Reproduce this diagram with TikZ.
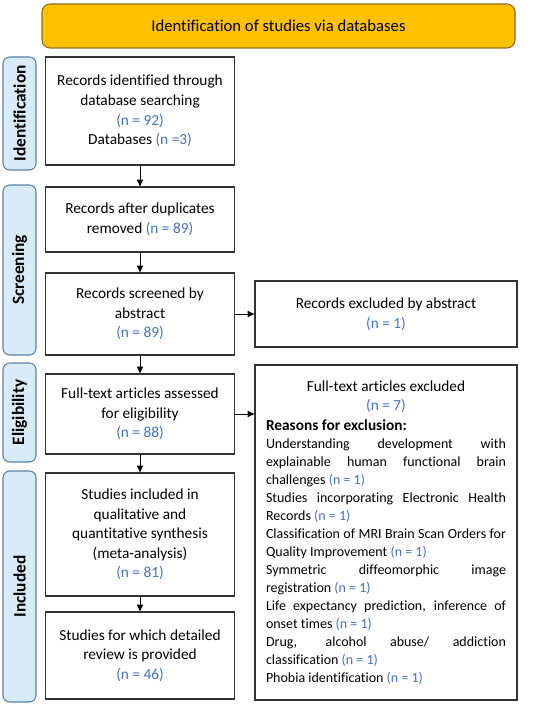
\documentclass[tikz,border=0pt]{standalone}
\usepackage{fontspec}
\setmainfont[Ligatures=NoCommon]{Carlito}
\usetikzlibrary{arrows.meta}
\definecolor{bannerfill}{HTML}{FFC000}
\definecolor{bannerline}{HTML}{8C6D1F}
\definecolor{phasefill}{HTML}{DAEBF8}
\definecolor{phaseline}{HTML}{5A7FA8}
\definecolor{nblue}{HTML}{4472C4}
\definecolor{boxline}{HTML}{333333}
\newcommand{\nval}[1]{\textcolor{nblue}{#1}}
\begin{document}
\begin{tikzpicture}[x=0.75pt, y=-0.75pt,
    banner/.style={draw=bannerline, fill=bannerfill, line width=0.8pt, rounded corners=6pt, font=\fontsize{12.5}{15}\selectfont},
    phase/.style={draw=phaseline, fill=phasefill, line width=0.8pt, rounded corners=5pt, minimum height=24.75pt, font=\bfseries\fontsize{13}{15}\selectfont, rotate=90},
    box/.style={draw=boxline, line width=0.9pt, fill=white, align=center, inner sep=2pt, minimum width=141.75pt, font=\fontsize{11.5}{14.7}\selectfont},
    arr/.style={-{Triangle[length=5pt,width=4.5pt]}, line width=0.75pt}]
    \useasboundingbox (0,0) rectangle (550,706);

    % header
    \node[banner, minimum width=354.75pt, minimum height=33pt] (head) at (278.5,26) {Identification of studies via databases};

    % phases on the left
    \node[phase, minimum width=84.75pt] (pid) at (19.5,113.5) {Identification};
    \node[phase, minimum width=127.5pt] (psc) at (19.5,270) {Screening};
    \node[phase, minimum width=74.25pt] (pel) at (19.5,412.5) {Eligibility};
    \node[phase, minimum width=173.25pt] (pin) at (19.5,586.5) {Included};

    % main column
    \node[box, minimum height=81pt] (ident) at (140,111) {Records identified through\\database searching\\\nval{(n = 92)}\\Databases \nval{(n =3)}};
    \node[box, minimum height=48.75pt] (dupl) at (140,219.5) {Records after duplicates\\removed \nval{(n = 89)}};
    \node[box, minimum height=61.5pt] (scrn) at (140,314) {Records screened by\\abstract\\\nval{(n = 89)}};
    \node[box, minimum height=60pt] (elig) at (140,414) {Full-text articles assessed\\for eligibility\\\nval{(n = 88)}};
    \node[box, minimum height=92.25pt] (incl) at (140,534.5) {Studies included in\\qualitative and\\quantitative synthesis\\(meta-analysis)\\\nval{(n = 81)}};
    \node[box, minimum height=65.25pt] (revw) at (140,655.5) {Studies for which detailed\\review is provided\\\nval{(n = 46)}};

    % exclusions
    \node[box, minimum width=196.5pt, minimum height=49.5pt] (exab) at (386,314) {Records excluded by abstract\\\nval{(n = 1)}};
    \node[box, minimum width=196.5pt, minimum height=251.25pt, text width=180pt, align=justify] (exft) at (386,532.5) {%
        {\centering Full-text articles excluded\par \nval{(n = 7)}\par}
        \textbf{Reasons for exclusion:}\par
        \fontsize{10.5}{13.5}\selectfont
        Understanding development with\linebreak explainable human functional brain\linebreak challenges \nval{(n = 1)}\par
        Studies incorporating Electronic Health\linebreak Records \nval{(n = 1)}\par
        Classification of MRI Brain Scan Orders for\linebreak Quality Improvement \nval{(n = 1)}\par
        Symmetric diffeomorphic image\linebreak registration \nval{(n = 1)}\par
        Life expectancy prediction, inference of\linebreak onset times \nval{(n = 1)}\par
        Drug, alcohol abuse/ addiction\linebreak classification \nval{(n = 1)}\par
        Phobia identification \nval{(n = 1)}\par};

    % arrows
    \draw[arr] (ident) -- (dupl);
    \draw[arr] (dupl) -- (scrn);
    \draw[arr] (scrn) -- (elig);
    \draw[arr] (elig) -- (incl);
    \draw[arr] (incl) -- (revw);
    \draw[arr] (scrn) -- (exab);
    \draw[arr] (elig.east) -- (elig.east -| exft.west);
\end{tikzpicture}
\end{document}
